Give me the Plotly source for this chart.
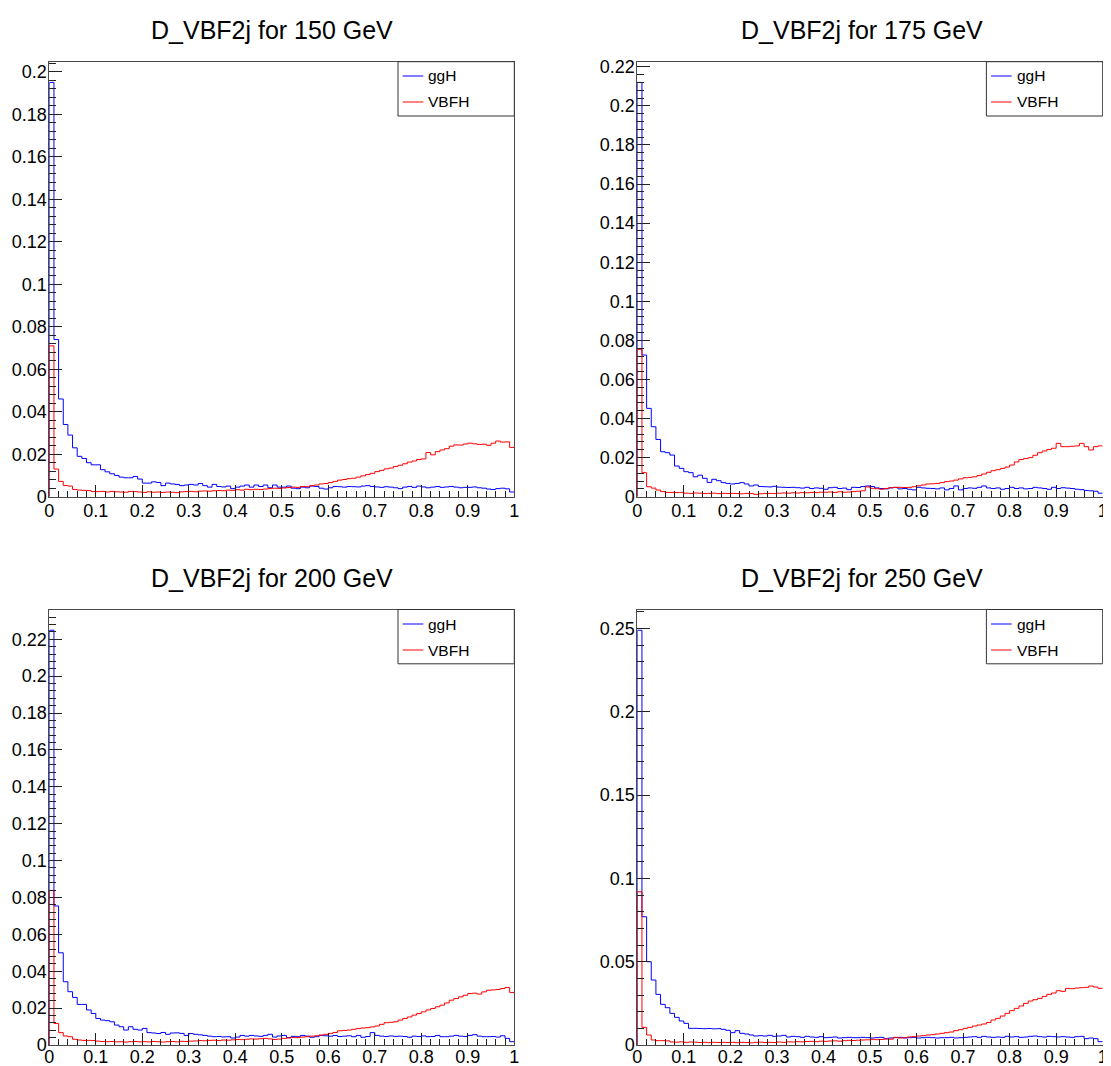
import numpy as np
import plotly.graph_objects as go

# ---------------- data (bin contents, 100 bins in [0,1]) ----------------
masses = ["150", "175", "200", "250"]
series_names = ["ggH", "VBFH"]

ggH_150 = [0.195, 0.074, 0.046, 0.034, 0.029, 0.023, 0.019, 0.018, 0.016, 0.015,
           0.015, 0.0127, 0.0117, 0.0108, 0.010, 0.0092, 0.0089, 0.0089, 0.0095, 0.0083,
           0.0064, 0.0064, 0.007, 0.0067, 0.0052, 0.0064, 0.006, 0.0058, 0.0052, 0.0055,
           0.0058, 0.0055, 0.0062, 0.0052, 0.0045, 0.0058, 0.0048, 0.0046, 0.005, 0.0038,
           0.0045, 0.005, 0.0055, 0.0045, 0.0055, 0.0048, 0.0055, 0.0042, 0.0055, 0.0045,
           0.0045, 0.005, 0.004, 0.0038, 0.0045, 0.0042, 0.005, 0.0048, 0.004, 0.0036,
           0.0042, 0.0048, 0.0047, 0.0045, 0.0048, 0.0047, 0.0046, 0.005, 0.0052, 0.0048,
           0.0046, 0.0044, 0.0047, 0.0045, 0.0042, 0.0038, 0.0045, 0.0048, 0.0044, 0.005,
           0.0046, 0.0042, 0.0045, 0.0048, 0.0044, 0.0046, 0.0048, 0.0045, 0.0042, 0.0044,
           0.0044, 0.0046, 0.0042, 0.004, 0.0036, 0.0034, 0.0038, 0.004, 0.0037, 0.0022]

VBFH_150 = [0.071, 0.013, 0.0072, 0.0053, 0.005, 0.0034, 0.0031, 0.003, 0.0029, 0.0024,
            0.0024, 0.0025, 0.0022, 0.0025, 0.0023, 0.0022, 0.0021, 0.0025, 0.0024, 0.0022,
            0.002, 0.0023, 0.0021, 0.0022, 0.002, 0.0022, 0.0021, 0.0019, 0.0023, 0.0024,
            0.0025, 0.0023, 0.0026, 0.0027, 0.0026, 0.0028, 0.0029, 0.0028, 0.0031, 0.003,
            0.0033, 0.0031, 0.0035, 0.0033, 0.0035, 0.0034, 0.0036, 0.0038, 0.004, 0.0039,
            0.0041, 0.0043, 0.0045, 0.0044, 0.0048, 0.0047, 0.0052, 0.0055, 0.006, 0.0062,
            0.0067, 0.0072, 0.0078, 0.0081, 0.0085, 0.0087, 0.0092, 0.0098, 0.0104, 0.011,
            0.0118, 0.0124, 0.0131, 0.0135, 0.0142, 0.0148, 0.0155, 0.0163, 0.0168, 0.0175,
            0.0178, 0.0208, 0.0197, 0.0212, 0.022, 0.0226, 0.0238, 0.0244, 0.0243, 0.0248,
            0.0252, 0.0249, 0.0246, 0.0247, 0.0242, 0.0252, 0.0262, 0.0257, 0.0258, 0.0232]

ggH_175 = [0.212, 0.0725, 0.0452, 0.0358, 0.0293, 0.023, 0.0225, 0.0213, 0.0157, 0.0145,
           0.0128, 0.0123, 0.0102, 0.011, 0.0094, 0.0073, 0.0089, 0.0082, 0.0072, 0.0068,
           0.0065, 0.0068, 0.0072, 0.0065, 0.0055, 0.006, 0.0052, 0.0051, 0.005, 0.0053,
           0.0049, 0.0048, 0.0047, 0.0048, 0.0046, 0.0044, 0.0048, 0.0042, 0.0045, 0.0043,
           0.0038, 0.0046, 0.0048, 0.0042, 0.0044, 0.0036, 0.0048, 0.0047, 0.0052, 0.0055,
           0.0052, 0.0045, 0.0042, 0.004, 0.0045, 0.0048, 0.004, 0.0042, 0.0038, 0.0035,
           0.0048, 0.0045, 0.0043, 0.0042, 0.004, 0.0045, 0.0035, 0.0042, 0.0055, 0.0035,
           0.0042, 0.0045, 0.0043, 0.0048, 0.0055, 0.0045, 0.0042, 0.0045, 0.0038, 0.0042,
           0.0048, 0.0042, 0.0045, 0.004, 0.0042, 0.0048, 0.0045, 0.0042, 0.0038, 0.0048,
           0.0042, 0.0046, 0.0044, 0.0042, 0.0038, 0.0036, 0.0032, 0.003, 0.0028, 0.0018]

VBFH_175 = [0.0754, 0.0123, 0.0051, 0.0044, 0.0034, 0.0026, 0.0022, 0.0022, 0.0021, 0.0022,
            0.0018, 0.0017, 0.0019, 0.0018, 0.0016, 0.0017, 0.0018, 0.0016, 0.0017, 0.0016,
            0.0017, 0.0016, 0.0015, 0.0017, 0.0016, 0.0012, 0.0015, 0.0016, 0.0017, 0.0016,
            0.0018, 0.0019, 0.0018, 0.002, 0.0019, 0.0021, 0.002, 0.0022, 0.0021, 0.0023,
            0.0023, 0.0024, 0.0022, 0.0025, 0.0023, 0.0024, 0.0026, 0.0028, 0.003, 0.005,
            0.0043, 0.0041, 0.0038, 0.0042, 0.0046, 0.0047, 0.0048, 0.0047, 0.0048, 0.0051,
            0.0056, 0.006, 0.0065, 0.0066, 0.0068, 0.0072, 0.0077, 0.008, 0.0085, 0.0091,
            0.0097, 0.0099, 0.0102, 0.0108, 0.0116, 0.0125, 0.0133, 0.0138, 0.0145, 0.0152,
            0.0162, 0.0178, 0.019, 0.0195, 0.020, 0.0212, 0.0225, 0.0234, 0.0242, 0.0248,
            0.0273, 0.0256, 0.0256, 0.0258, 0.026, 0.0273, 0.0256, 0.0239, 0.0256, 0.026]

ggH_200 = [0.2249, 0.0754, 0.050, 0.0343, 0.0289, 0.0258, 0.022, 0.022, 0.019, 0.0171,
           0.0144, 0.0135, 0.0132, 0.0126, 0.0108, 0.0099, 0.0081, 0.0099, 0.0085, 0.0081,
           0.009, 0.0067, 0.0065, 0.0062, 0.0068, 0.0058, 0.0065, 0.0066, 0.0063, 0.0052,
           0.0062, 0.0058, 0.0055, 0.0052, 0.0048, 0.0045, 0.0046, 0.0044, 0.0045, 0.0038,
           0.0043, 0.0052, 0.0048, 0.0052, 0.0049, 0.0047, 0.0052, 0.0058, 0.0043, 0.0049,
           0.0052, 0.004, 0.0047, 0.0045, 0.0052, 0.0048, 0.0042, 0.0045, 0.0052, 0.005,
           0.0048, 0.0052, 0.0046, 0.0048, 0.005, 0.0045, 0.0052, 0.0042, 0.0046, 0.0067,
           0.0052, 0.0048, 0.0046, 0.0049, 0.0047, 0.0048, 0.0046, 0.0042, 0.0048, 0.0046,
           0.0049, 0.0045, 0.0046, 0.0052, 0.0045, 0.0045, 0.0048, 0.0052, 0.0048, 0.0046,
           0.0052, 0.0056, 0.0048, 0.0045, 0.0045, 0.0046, 0.0043, 0.005, 0.0036, 0.0018]

VBFH_200 = [0.0838, 0.0117, 0.0067, 0.0049, 0.0045, 0.0031, 0.0027, 0.0025, 0.0025, 0.0024,
            0.0021, 0.0019, 0.0018, 0.0019, 0.0017, 0.0018, 0.0016, 0.0018, 0.0019, 0.0017,
            0.0018, 0.0017, 0.0019, 0.0018, 0.0016, 0.0018, 0.0019, 0.0017, 0.002, 0.0019,
            0.0021, 0.0022, 0.0024, 0.0023, 0.0025, 0.0026, 0.0024, 0.0027, 0.0026, 0.0028,
            0.003, 0.0029, 0.0031, 0.0033, 0.0032, 0.0034, 0.0036, 0.0033, 0.003, 0.0032,
            0.0036, 0.0038, 0.0041, 0.004, 0.0043, 0.0045, 0.0048, 0.005, 0.0054, 0.0058,
            0.0063, 0.0068, 0.0077, 0.0079, 0.0081, 0.0085, 0.009, 0.0092, 0.0094, 0.0098,
            0.0103, 0.0112, 0.0121, 0.0123, 0.0126, 0.0135, 0.0144, 0.0152, 0.0162, 0.0171,
            0.018, 0.019, 0.0198, 0.0207, 0.0216, 0.0228, 0.0243, 0.0252, 0.0261, 0.027,
            0.0279, 0.0281, 0.0276, 0.0288, 0.0297, 0.0299, 0.0301, 0.0306, 0.0312, 0.0285]

ggH_250 = [0.249, 0.077, 0.050, 0.039, 0.0304, 0.0244, 0.0224, 0.019, 0.0166, 0.0144,
           0.013, 0.010, 0.010, 0.0099, 0.0098, 0.0099, 0.0097, 0.0098, 0.0094, 0.0088,
           0.0074, 0.0086, 0.007, 0.0066, 0.006, 0.0054, 0.0056, 0.0054, 0.0058, 0.0052,
           0.0054, 0.0058, 0.0048, 0.0052, 0.005, 0.0046, 0.0052, 0.0048, 0.0046, 0.005,
           0.0044, 0.0046, 0.0048, 0.0042, 0.0044, 0.0046, 0.0044, 0.0044, 0.0046, 0.0044,
           0.0042, 0.0044, 0.0046, 0.0038, 0.0042, 0.0044, 0.0046, 0.0042, 0.0044, 0.0046,
           0.0042, 0.0044, 0.0046, 0.0044, 0.0042, 0.0044, 0.0044, 0.0046, 0.0042, 0.0044,
           0.0046, 0.0048, 0.005, 0.0046, 0.0052, 0.0048, 0.0046, 0.0048, 0.0046, 0.0052,
           0.0048, 0.005, 0.0046, 0.0048, 0.0052, 0.0054, 0.005, 0.0048, 0.0052, 0.005,
           0.0048, 0.005, 0.0048, 0.0046, 0.005, 0.0052, 0.0038, 0.0042, 0.0038, 0.002]

VBFH_250 = [0.092, 0.0106, 0.006, 0.003, 0.0026, 0.0026, 0.0025, 0.0018, 0.0017, 0.0019,
            0.0016, 0.0018, 0.0017, 0.0015, 0.0016, 0.0014, 0.0016, 0.0015, 0.0016, 0.0015,
            0.0016, 0.0014, 0.0016, 0.0015, 0.0013, 0.0016, 0.0017, 0.0015, 0.0016, 0.0015,
            0.0018, 0.0016, 0.0019, 0.0018, 0.002, 0.0019, 0.0021, 0.0022, 0.002, 0.0023,
            0.0022, 0.0024, 0.0025, 0.0023, 0.0026, 0.0028, 0.0027, 0.0029, 0.003, 0.0031,
            0.0034, 0.0032, 0.0033, 0.0036, 0.0035, 0.0046, 0.0042, 0.0044, 0.0048, 0.005,
            0.0054, 0.0056, 0.006, 0.0062, 0.0066, 0.007, 0.0074, 0.0078, 0.0086, 0.0092,
            0.010, 0.0106, 0.0114, 0.012, 0.0126, 0.0135, 0.015, 0.016, 0.0174, 0.019,
            0.0206, 0.022, 0.0234, 0.025, 0.0264, 0.0272, 0.028, 0.0292, 0.0304, 0.0312,
            0.0326, 0.0322, 0.034, 0.0338, 0.0342, 0.0344, 0.0346, 0.0354, 0.0348, 0.034]

x_tick_step = 0.1
y_tick_steps = [0.02, 0.02, 0.02, 0.05]

ggH_all = [ggH_150, ggH_175, ggH_200, ggH_250]
VBFH_all = [VBFH_150, VBFH_175, VBFH_200, VBFH_250]

# ---------------- layout helpers ----------------
WIN_W, WIN_H = 1111, 1066
OFF = 8  # default page margin around the plot div
W, H = WIN_W - OFF, WIN_H - OFF
FONT = "Liberation Sans, Arial, Helvetica, sans-serif"
COL_GGH = "#0000ff"
COL_VBF = "#ff0000"

def px(x):
    return (x - OFF) / W

def py(y):
    return 1 - (y - OFF) / H

# frame pixel boxes in window pixels (left, right, top, bottom)
frames = [(49.3, 514.3, 61.7, 496.7), (637.3, 1102.7, 61.7, 496.7),
          (49.3, 514.3, 609.5, 1045.0), (637.3, 1102.7, 609.5, 1045.0)]
title_x = [271.5, 861.5, 271.5, 861.5]
title_y = [30, 30, 578, 578]
x_label_standoff = [-2, -2, -5, -5]

n_bins = 100
edges = np.linspace(0.0, 1.0, n_bins + 1)

fig = go.Figure()
layout = dict(width=W, height=H, margin=dict(l=0, r=0, t=0, b=0, autoexpand=False),
              paper_bgcolor="white", plot_bgcolor="white", showlegend=False)
shapes = []
annotations = []

for i, m in enumerate(masses):
    k = "" if i == 0 else str(i + 1)
    xa, ya = "x" + k, "y" + k
    l, r, t, b = frames[i]
    g = list(ggH_all[i])
    v = list(VBFH_all[i])
    assert len(g) == n_bins and len(v) == n_bins
    ymax = 1.05 * max(max(g), max(v))

    for vals, col, name in [(g, COL_GGH, series_names[0]), (v, COL_VBF, series_names[1])]:
        xs = np.concatenate([[edges[0]], edges[:-1], [edges[-1]]])
        ys = np.concatenate([[0.0], vals, [vals[-1]]])
        fig.add_trace(go.Scatter(x=xs, y=ys, mode="lines", line=dict(color=col, width=1, shape="hv"),
                                 name=name, xaxis=xa, yaxis=ya, hoverinfo="skip"))

    common = dict(showline=True, linecolor="#4a4a4a", linewidth=1, mirror=True, automargin=False,
                  ticks="inside", tickwidth=1, tickcolor="#222", showgrid=False, zeroline=False,
                  tickfont=dict(family=FONT, size=18, color="black"))
    layout["xaxis" + k] = dict(common, domain=[px(l), px(r)], range=[0, 1], anchor=ya,
                               tick0=0, dtick=x_tick_step, ticklen=12,
                               ticklabelstandoff=x_label_standoff[i],
                               minor=dict(ticks="inside", ticklen=6, dtick=x_tick_step / 5,
                                          tickcolor="#222", tickwidth=1, showgrid=False))
    ys_step = y_tick_steps[i]
    layout["yaxis" + k] = dict(common, domain=[py(b), py(t)], range=[0, ymax], anchor=xa,
                               tick0=0, dtick=ys_step, ticklen=13, ticklabelstandoff=-2,
                               minor=dict(ticks="inside", ticklen=7, dtick=ys_step / 5,
                                          tickcolor="#222", tickwidth=1, showgrid=False))

    annotations.append(dict(text=f"D_VBF2j for {m} GeV", x=px(title_x[i]), y=py(title_y[i]),
                            xref="paper", yref="paper", xanchor="center", yanchor="middle",
                            showarrow=False, font=dict(family=FONT, size=25, color="black")))

    # legend box (ROOT TLegend style)
    bl, br, bt, bb = r - 116.3, r, t, t + 54.3
    shapes.append(dict(type="rect", xref="paper", yref="paper", x0=px(bl), x1=px(br),
                       y0=py(bb), y1=py(bt), line=dict(color="#333", width=1), fillcolor="white"))
    for j, (name, col) in enumerate([(series_names[0], COL_GGH), (series_names[1], COL_VBF)]):
        yy = round(bt + 14.3 + j * 25.7)
        shapes.append(dict(type="line", xref="paper", yref="paper", x0=px(bl + 4.7), x1=px(bl + 25.3),
                           y0=py(yy), y1=py(yy), line=dict(color=col, width=1)))
        annotations.append(dict(text=name, x=px(bl + 28.5), y=py(yy), xref="paper", yref="paper",
                                xanchor="left", yanchor="middle", showarrow=False,
                                font=dict(family=FONT, size=15.5, color="black")))

layout["shapes"] = shapes
layout["annotations"] = annotations
fig.update_layout(**layout)
fig.write_html("out.html")
